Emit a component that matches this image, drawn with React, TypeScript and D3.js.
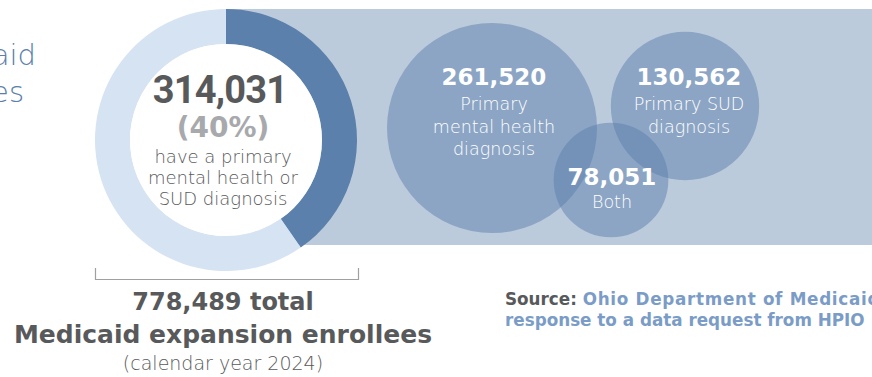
import React from "react";
import * as d3 from "d3";

// ---- data ----
const totalEnrollees = 778489;
const diagnosedCount = 314031;
const donutLabels = ["Primary mental health or SUD diagnosis", "Other enrollees"];
const donutValues = [diagnosedCount, totalEnrollees - diagnosedCount];
const bubbleNames = ["Primary mental health diagnosis", "Primary SUD diagnosis", "Both"];
const bubbleValues = [261520, 130562, 78051];
const bubbleLines = [["Primary", "mental health", "diagnosis"], ["Primary SUD", "diagnosis"], ["Both"]];
const centerLines = ["have a primary", "mental health or", "SUD diagnosis"];

const W = 872;
const H = 377;
const FONT = "'DejaVu Sans', sans-serif";
const GRAY = "#58595b";
const BLUE = "#5b80ab";

export default function App() {
  const cx = 226, cy = 140;
  const pie = d3.pie<number>().sort(null).value((d) => d)(donutValues);
  const arc = d3.arc<d3.PieArcDatum<number>>().innerRadius(96).outerRadius(131);
  const donutColors = ["#5b80ab", "#d6e3f3"];
  const pct = Math.round((diagnosedCount / totalEnrollees) * 100);
  const fmt = d3.format(",");

  const r = d3.scaleSqrt().domain([0, d3.max(bubbleValues) as number]).range([0, 105]);
  const bubblePos = [
    { x: 492, y: 128 },
    { x: 685, y: 106 },
    { x: 611, y: 180 },
  ];
  const numY = [85, 85, 185];
  const lineStart = [110, 110, 208];
  const labelX = [494, 689, 612];

  return (
    <svg width={W} height={H} style={{ position: "absolute", left: 0, top: 0, background: "#fff" }}>
      <rect x={cx} y={9} width={W - cx} height={236} fill="#bccbdc" />
      {bubbleValues.map((v, i) => (
        <circle key={bubbleNames[i]} cx={bubblePos[i].x} cy={bubblePos[i].y} r={r(v)} fill={BLUE} fillOpacity={0.5} />
      ))}
      {bubbleValues.map((v, i) => (
        <g key={"t" + i} fill="#fff" fontFamily={FONT} textAnchor="middle">
          <text x={labelX[i]} y={numY[i]} fontSize={23} fontWeight="bold">{fmt(v)}</text>
          {bubbleLines[i].map((l, j) => (
            <text key={j} x={labelX[i]} y={lineStart[i] + j * 22.5} fontSize={17.5} fontWeight={300}>{l}</text>
          ))}
        </g>
      ))}
      <g transform={`translate(${cx},${cy})`}>
        {pie.map((p, i) => (
          <path key={donutLabels[i]} d={arc(p) as string} fill={donutColors[i]} />
        ))}
        <circle r={96} fill="#fff" />
      </g>
      <text x={220} y={103} textAnchor="middle" fontFamily="Roboto, sans-serif" fontWeight="bold" fontSize={38} fill={GRAY} letterSpacing={-0.8}>{fmt(diagnosedCount)}</text>
      <text x={223} y={137} textAnchor="middle" fontFamily={FONT} fontWeight="bold" fontSize={28} fill="#a7a9ac">({pct}%)</text>
      {centerLines.map((l, j) => (
        <text key={l} x={223} y={163 + j * 21} textAnchor="middle" fontFamily={FONT} fontWeight={300} fontSize={18} fill={GRAY}>{l}</text>
      ))}
      <text x={36} y={65} textAnchor="end" fontFamily={FONT} fontWeight={300} fontSize={29} fill={BLUE}>Medicaid</text>
      <text x={24} y={102} textAnchor="end" fontFamily={FONT} fontWeight={300} fontSize={29} fill={BLUE}>enrollees</text>
      <path d="M95.5,268 V279.5 H358.5 V268" fill="none" stroke="#a0a0a0" strokeWidth={1.2} />
      <text x={223} y={310} textAnchor="middle" fontFamily={FONT} fontWeight="bold" fontSize={24} fill={GRAY}>{fmt(totalEnrollees)} total</text>
      <text x={223} y={343} textAnchor="middle" fontFamily={FONT} fontWeight="bold" fontSize={25} fill={GRAY}>Medicaid expansion enrollees</text>
      <text x={223} y={370} textAnchor="middle" fontFamily={FONT} fontWeight={300} fontSize={19} fill={GRAY}>(calendar year 2024)</text>
      <text x={505} y={305} fontFamily={FONT} fontWeight="bold" fontSize={16.8}>
        <tspan fill={GRAY}>Source: </tspan>
        <tspan fill="#7a9cc6" letterSpacing={0.7}>Ohio Department of Medicaid</tspan>
      </text>
      <text x={505} y={326} fontFamily={FONT} fontWeight="bold" fontSize={16.8} fill="#7a9cc6">response to a data request from HPIO</text>
    </svg>
  );
}
